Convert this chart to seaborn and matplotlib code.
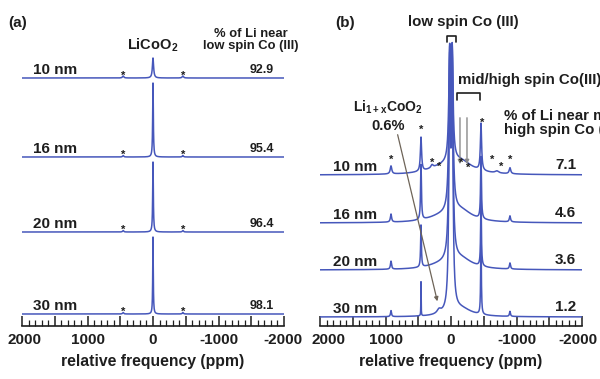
import numpy as np
import pandas as pd
import seaborn as sns
import matplotlib.pyplot as plt
from matplotlib.ticker import MultipleLocator, FuncFormatter
from matplotlib.transforms import ScaledTranslation

# ---- data ----
sizes = ["10 nm", "16 nm", "20 nm", "30 nm"]
pct_low = ["92.9", "95.4", "96.4", "98.1"]          # panel (a)
pct_high = ["7.1", "4.6", "3.6", "1.2"]             # panel (b)

# peaks: (position ppm, height, FWHM ppm); heights in px of the original
peaks_a = {
    "10 nm": [(0, 20, 22), (456, 2, 25), (-456, 2, 25)],
    "16 nm": [(0, 74, 12), (456, 1.5, 20), (-456, 1.5, 20)],
    "20 nm": [(0, 70, 12), (456, 1.5, 20), (-456, 1.5, 20)],
    "30 nm": [(0, 77, 10), (456, 1.5, 20), (-456, 1.5, 20)],
}
peaks_b = {
    "10 nm": [(20, 104, 32), (-18, 104, 32), (-150, 12, 420), (150, 6, 500),
              (458, 34, 22), (-458, 47, 22), (916, 8, 28), (-900, 6, 28),
              (290, 3, 40), (-700, 2, 60)],
    "16 nm": [(20, 146, 32), (-18, 146, 32), (-150, 11, 420), (150, 5, 500),
              (458, 55, 16), (-458, 62, 16), (916, 8, 22), (-900, 6, 22)],
    "20 nm": [(20, 189, 30), (-18, 189, 30), (-150, 10, 420), (150, 4, 500),
              (458, 42, 14), (-458, 68, 14), (916, 8, 20), (-900, 6, 20)],
    "30 nm": [(20, 232, 28), (-18, 232, 28), (-150, 8, 400), (183, 4, 70),
              (458, 34, 5), (-458, 80, 12), (916, 6, 18), (-900, 5, 18)],
}
offsets_a = [248, 169, 94, 12]
offsets_b = [151, 103, 56, 9]

ppm = np.arange(2000, -2001, -2.0)


def spectrum(plist):
    y = np.zeros_like(ppm)
    for x0, h, w in plist:
        y += h / (1 + ((ppm - x0) / (w / 2)) ** 2)
    return y


def long_frame(peaks, offsets):
    rows = []
    for s, off in zip(sizes, offsets):
        rows.append(pd.DataFrame({"ppm": ppm, "y": spectrum(peaks[s]) + off, "trace": s}))
    return pd.concat(rows, ignore_index=True)


sns.set_style("white")
plt.rcParams["font.family"] = ["Liberation Sans", "DejaVu Sans"]
plt.rcParams["mathtext.fontset"] = "custom"
plt.rcParams["mathtext.bf"] = "Liberation Sans:bold"
plt.rcParams["mathtext.rm"] = "Liberation Sans:bold"
plt.rcParams["mathtext.default"] = "bf"

blue = "#4657bb"
txt = "#1e1e1e"
LA, LB, W = 22, 320, 262     # left edges / width of the two panels (px)
fig = plt.figure(figsize=(6, 3.79), dpi=100)
ax_a = fig.add_axes([LA / 600, 53 / 379, W / 600, 326 / 379])
ax_b = fig.add_axes([LB / 600, 53 / 379, W / 600, 326 / 379])


def px2ppm(px, left):
    return 2000 - (px - left) / W * 4000


# outer tick labels are nudged sideways in the original (px)
edge_shift = {ax_a: (3, -1), ax_b: (9, -4)}

for ax, peaks, offs in [(ax_a, peaks_a, offsets_a), (ax_b, peaks_b, offsets_b)]:
    df = long_frame(peaks, offs)
    sns.lineplot(data=df, x="ppm", y="y", units="trace", estimator=None, sort=False,
                 color=blue, lw=1.1, ax=ax, legend=False)
    ax.set_xlim(2000, -2000)
    ax.set_ylim(0, 326)
    for sp in ["top", "left", "right"]:
        ax.spines[sp].set_visible(False)
    ax.spines["bottom"].set_color(txt)
    ax.spines["bottom"].set_linewidth(1.2)
    ax.set_yticks([])
    ax.set_ylabel("")
    ax.xaxis.set_major_locator(MultipleLocator(500))
    ax.xaxis.set_minor_locator(MultipleLocator(100))
    ax.xaxis.set_major_formatter(
        FuncFormatter(lambda v, p: f"{int(v)}" if v % 1000 == 0 and abs(v) < 2000 else ""))
    ax.tick_params(axis="x", which="major", bottom=True, direction="in", length=7, width=1.1,
                   color=txt, labelsize=11, pad=5, labelcolor=txt)
    ax.tick_params(axis="x", which="minor", bottom=True, direction="in", length=4, width=0.9, color=txt)
    for lab in ax.get_xticklabels():
        lab.set_fontweight("bold")
    for xv, dx in zip((2000, -2000), edge_shift[ax]):
        tr = ax.get_xaxis_transform() + ScaledTranslation(dx / 100, -6.9 / 100, fig.dpi_scale_trans)
        ax.text(xv, 0, f"{xv}", transform=tr, ha="center", va="top", fontsize=11,
                fontweight="bold", color=txt)
    ax.set_xlabel("relative frequency (ppm)", fontsize=11.3, fontweight="bold", color=txt, labelpad=5)
    ax.patch.set_alpha(0)

bold = dict(fontweight="bold", color=txt)

# ---- panel (a) annotations ----
fig.text(8 / 600, 1 - 23 / 379, "(a)", fontsize=11, va="center", **bold)
ax_a.text(0, 326 - 45, r"LiCoO$_2$", fontsize=10.5, ha="center", va="center", **bold)
ax_a.text(px2ppm(251, LA), 326 - 40, "% of Li near\nlow spin Co (III)", fontsize=9.4,
          ha="center", va="center", linespacing=1.1, **bold)
for s, v, off in zip(sizes, pct_low, offsets_a):
    ax_a.text(px2ppm(33, LA), off + 8, s, fontsize=11, ha="left", va="center", **bold)
    ax_a.text(px2ppm(262, LA), off + 8, v, fontsize=9, ha="center", va="center", **bold)
    for sb in (456, -456):
        ax_a.text(sb, off + 2, "*", fontsize=8, ha="center", va="center", **bold)

# ---- panel (b) annotations ----
fig.text(335 / 600, 1 - 23 / 379, "(b)", fontsize=11, va="center", **bold)
ax_b.text(px2ppm(463, LB), 326 - 22, "low spin Co (III)", fontsize=10.8, ha="center", va="center", **bold)
x0, x1 = px2ppm(447, LB), px2ppm(456, LB)
ax_b.plot([x0, x0, x1, x1], [284, 290, 290, 284], color=txt, lw=1.2)
ax_b.text(px2ppm(458, LB), 326 - 80, "mid/high spin Co(III)", fontsize=10.8, ha="left", va="center", **bold)
x0, x1 = px2ppm(457, LB), px2ppm(480, LB)
ax_b.plot([x0, x0, x1, x1], [226, 233, 233, 226], color=txt, lw=1.2)
for xa in (-137, -244):
    ax_b.annotate("", xy=(xa, 326 - 167), xytext=(xa, 326 - 115),
                  arrowprops=dict(arrowstyle="-|>", color="#8a8a8a", lw=1.0, mutation_scale=6))
ax_b.text(px2ppm(388, LB), 326 - 107, r"Li$_{1+x}$CoO$_2$", fontsize=10, ha="center", va="center", **bold)
ax_b.text(px2ppm(388, LB), 326 - 126, "0.6%", fontsize=10.5, ha="center", va="center", **bold)
ax_b.annotate("", xy=(px2ppm(438, LB), 326 - 304), xytext=(px2ppm(397, LB), 326 - 132),
              arrowprops=dict(arrowstyle="-|>", color="#6e6458", lw=0.9, mutation_scale=6))
ax_b.text(px2ppm(504, LB), 326 - 123, "% of Li near mid/\nhigh spin Co (III)", fontsize=10.8,
          ha="left", va="center", linespacing=1.05, **bold)
stars_b = [(916, 160), (458, 130), (290, 163), (183, 167), (-153, 163), (-260, 168),
           (-473, 123), (-626, 160), (-763, 167), (-901, 160)]
for xs, ypx in stars_b:
    ax_b.text(xs, 326 - ypx, "*", fontsize=8, ha="center", va="center", **bold)
for s, v, off in zip(sizes, pct_high, offsets_b):
    ax_b.text(px2ppm(333, LB), off + 8, s, fontsize=11, ha="left", va="center", **bold)
    ax_b.text(px2ppm(576, LB), off + 10, v, fontsize=11, ha="right", va="center", **bold)

fig.savefig("out.png", dpi=100)
